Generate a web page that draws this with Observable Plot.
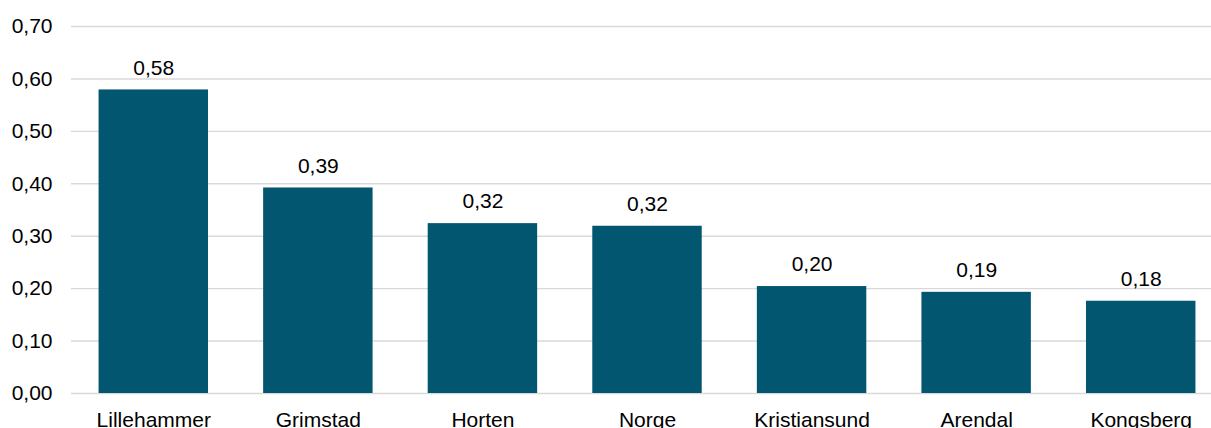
<!DOCTYPE html>
<html>
<head>
<meta charset="utf-8">
<script src="https://cdn.jsdelivr.net/npm/d3@7"></script>
<script src="https://cdn.jsdelivr.net/npm/@observablehq/plot@0.6"></script>
<style>
  html, body { margin: 0; padding: 0; background: #fff; overflow: hidden; }
  #chart { width: 1211px; height: 428px; overflow: hidden; }
</style>
</head>
<body>
<div id="chart"></div>
<script>
const categories = ["Lillehammer", "Grimstad", "Horten", "Norge", "Kristiansund", "Arendal", "Kongsberg"];
const values = [0.579, 0.392, 0.324, 0.319, 0.204, 0.193, 0.176];
const yTicks = [0, 0.1, 0.2, 0.3, 0.4, 0.5, 0.6, 0.7];

const data = categories.map((c, i) => ({category: c, value: values[i]}));
const fmt = d => d.toFixed(2).replace(".", ",");
const font = "Liberation Sans, Arial, sans-serif";
const fs = 21;

const chart = Plot.plot({
  width: 1223,
  height: 428,
  marginLeft: 71,
  marginRight: 0,
  marginTop: 26,
  marginBottom: 35,
  style: {fontFamily: font, fontSize: fs + "px", color: "#000", background: "#fff", maxWidth: "none", overflow: "hidden"},
  x: {domain: categories, paddingInner: 0.335, paddingOuter: 0.1675, round: false, label: null},
  y: {domain: [0, 0.7], ticks: yTicks, label: null},
  marks: [
    Plot.ruleY(yTicks, {stroke: "#d9d9d9", strokeWidth: 1.4}),
    Plot.barY(data, {x: "category", y: "value", fill: "#03566F"}),
    Plot.text(data, {x: "category", y: "value", text: d => fmt(d.value), dy: -22, fill: "#000", fontSize: fs}),
    Plot.axisY({ticks: yTicks, tickFormat: fmt, tickSize: 0, tickPadding: 19, label: null, fontSize: fs}),
    Plot.axisX({tickSize: 0, tickPadding: 19, label: null, fontSize: fs})
  ]
});
document.getElementById("chart").appendChild(chart);
</script>
</body>
</html>
